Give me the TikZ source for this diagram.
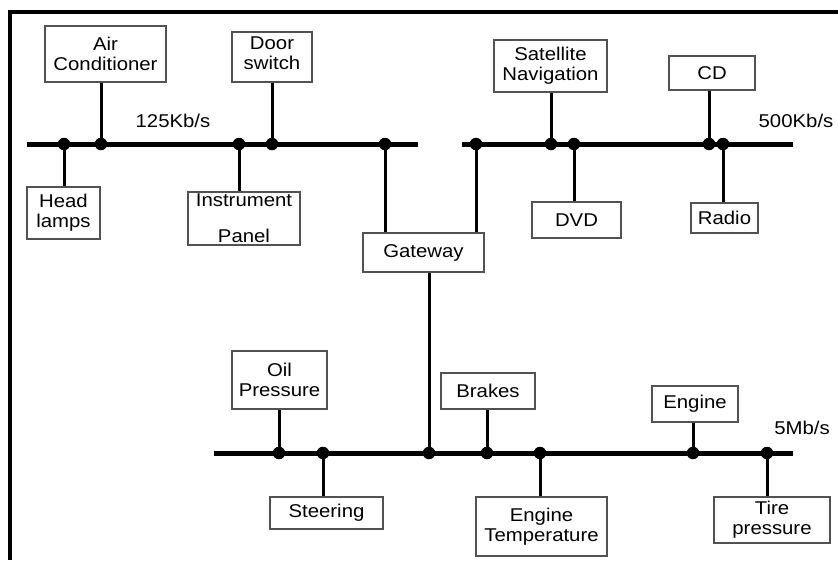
\documentclass[tikz,border=0pt]{standalone}
\usepackage{fontspec}
\setmainfont{Liberation Sans}[FakeStretch=1.1]
\begin{document}
\begin{tikzpicture}[x=1pt,y=-1pt,
  unit/.style={draw=black!68, line width=1.5pt, fill=white, align=center,
    inner sep=0pt, font=\fontsize{18.5}{20}\selectfont, text=black},
  bus/.style={line width=5pt},
  tap/.style={line width=3pt},
  joint/.style={circle, fill=black, inner sep=0pt, minimum size=12.5pt},
  rate/.style={font=\fontsize{18.5}{20}\selectfont, inner sep=0pt}
]
\useasboundingbox (0,0) rectangle (838,560);

% outer frame (left and top edges)
\draw[line width=4pt] (10,560) -- (10,12) -- (838,12);

% bus end points
\coordinate (lsA) at (27,144);  \coordinate (lsB) at (418,144);
\coordinate (msA) at (462,144); \coordinate (msB) at (793,144);
\coordinate (hsA) at (214,453); \coordinate (hsB) at (793,453);

% buses
\draw[bus] (lsA) -- (lsB);
\draw[bus] (msA) -- (msB);
\draw[bus] (hsA) -- (hsB);

% bus speed labels
\node[rate] (rls) at (173,121) {125Kb/s};
\node[rate] (rms) at (796,121) {500Kb/s};
\node[rate] (rhs) at (802,428) {5Mb/s};

% tap points on the buses
\node[joint] (jhl) at (64,144) {};
\node[joint] (jac) at (101,144) {};
\node[joint] (jip) at (239,144) {};
\node[joint] (jds) at (272,144) {};
\node[joint] (jgl) at (385,144) {};
\node[joint] (jgr) at (476,144) {};
\node[joint] (jsn) at (551,144) {};
\node[joint] (jdv) at (574,144) {};
\node[joint] (jcd) at (709,144) {};
\node[joint] (jra) at (723,144) {};
\node[joint] (jop) at (279,453) {};
\node[joint] (jst) at (323,453) {};
\node[joint] (jgb) at (429,453) {};
\node[joint] (jbr) at (487,453) {};
\node[joint] (jet) at (540,453) {};
\node[joint] (jen) at (693,453) {};
\node[joint] (jtp) at (767,453) {};

% units
\node[unit, minimum width=121, minimum height=56] (ac) at (105.5,54) {Air\\Conditioner};
\node[unit, minimum width=80, minimum height=50, text depth=8pt] (ds) at (272,57) {Door\\switch};
\node[unit, minimum width=73, minimum height=52] (hl) at (63.5,213) {Head\\lamps};
\node[unit, minimum width=112, minimum height=53] (ip) at (244,218.5) {Instrument\\[16pt]Panel};
\node[unit, minimum width=121, minimum height=39] (gw) at (423.5,252.5) {Gateway};
\node[unit, minimum width=113, minimum height=52] (sn) at (550.5,66) {Satellite\\Navigation};
\node[unit, minimum width=86, minimum height=34] (cd) at (712,73) {CD};
\node[unit, minimum width=89, minimum height=36] (dv) at (576.5,220) {DVD};
\node[unit, minimum width=67, minimum height=30] (ra) at (724.5,218) {Radio};
\node[unit, minimum width=95, minimum height=58] (op) at (279.5,380) {Oil\\Pressure};
\node[unit, minimum width=113, minimum height=32] (st) at (326.5,513) {Steering};
\node[unit, minimum width=94, minimum height=36] (br) at (488,391) {Brakes};
\node[unit, minimum width=131, minimum height=59] (et) at (541.5,526.5) {Engine\\Temperature};
\node[unit, minimum width=86, minimum height=36] (en) at (695,404) {Engine};
\node[unit, minimum width=116, minimum height=46] (tp) at (772,520) {Tire\\pressure};

% connectors from units to their buses
\draw[tap] (jhl.center) -- (hl.north -| jhl);
\draw[tap] (jac.center) -- (ac.south -| jac);
\draw[tap] (jip.center) -- (ip.north -| jip);
\draw[tap] (jds.center) -- (ds.south -| jds);
\draw[tap] (jgl.center) -- (gw.north -| jgl);
\draw[tap] (jgr.center) -- (gw.north -| jgr);
\draw[tap] (jsn.center) -- (sn.south -| jsn);
\draw[tap] (jdv.center) -- (dv.north -| jdv);
\draw[tap] (jcd.center) -- (cd.south -| jcd);
\draw[tap] (jra.center) -- (ra.north -| jra);
\draw[tap] (jop.center) -- (op.south -| jop);
\draw[tap] (jst.center) -- (st.north -| jst);
\draw[tap] (jgb.center) -- (gw.south -| jgb);
\draw[tap] (jbr.center) -- (br.south -| jbr);
\draw[tap] (jet.center) -- (et.north -| jet);
\draw[tap] (jen.center) -- (en.south -| jen);
\draw[tap] (jtp.center) -- (tp.north -| jtp);
\end{tikzpicture}
\end{document}
